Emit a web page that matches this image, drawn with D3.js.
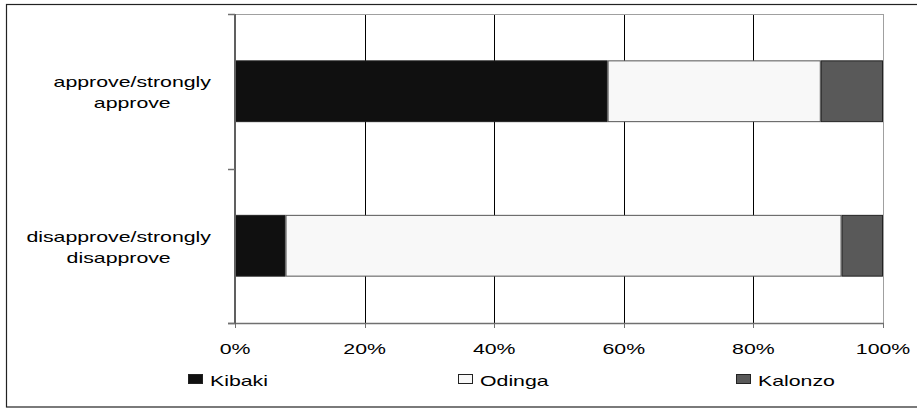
<!DOCTYPE html>
<html>
<head>
<meta charset="utf-8">
<script src="https://cdn.jsdelivr.net/npm/d3@7"></script>
<style>
  html, body { margin: 0; padding: 0; background: #fff; }
  svg { display: block; }
  text { font-family: "Liberation Sans", Arial, sans-serif; font-size: 15px; fill: #000; }
</style>
</head>
<body>
<svg id="chart" width="917" height="410"></svg>
<script>
const categories = [["approve/strongly", "approve"], ["disapprove/strongly", "disapprove"]];
const series = ["Kibaki", "Odinga", "Kalonzo"];
const kibaki = [57.5, 7.8];
const odinga = [32.9, 85.8];
const kalonzo = [9.6, 6.4];
const tickValues = [0, 20, 40, 60, 80, 100];
const tickLabels = ["0%", "20%", "40%", "60%", "80%", "100%"];
const colors = ["#101010", "#f8f8f8", "#595959"];

const SX = 1.42; // horizontal stretch of text in the reference
const svg = d3.select("#chart");

// outer frame
svg.append("rect").attr("x", 6.5).attr("y", 4.5).attr("width", 920).attr("height", 402.5)
  .attr("fill", "none").attr("stroke", "#222").attr("stroke-width", 1.2);

const x = d3.scaleLinear().domain([0, 100]).range([235, 883]);
const yBand = d3.scaleBand().domain(d3.range(categories.length)).range([14, 323]);
const barH = yBand.bandwidth() * 0.4;

// gridlines
svg.append("g").selectAll("line").data(tickValues.slice(1, -1)).join("line")
  .attr("x1", d => Math.round(x(d)) + 0.5).attr("x2", d => Math.round(x(d)) + 0.5)
  .attr("y1", 14).attr("y2", 323).attr("stroke", "#000").attr("stroke-width", 1);

// plot border top/right
svg.append("line").attr("x1", x(0)).attr("x2", x(100) + 0.5).attr("y1", 14.5).attr("y2", 14.5)
  .attr("stroke", "#a0a0a0");
svg.append("line").attr("x1", x(100) + 0.5).attr("x2", x(100) + 0.5).attr("y1", 14).attr("y2", 323)
  .attr("stroke", "#a0a0a0");

// stacked data
const rows = categories.map((c, i) => ({ i, Kibaki: kibaki[i], Odinga: odinga[i], Kalonzo: kalonzo[i] }));
const stack = d3.stack().keys(series)(rows);
const strokes = ["#222", "#555", "#222"];
svg.append("g").selectAll("g").data(stack).join("g")
  .attr("fill", (d, k) => colors[k]).attr("stroke", (d, k) => strokes[k])
  .selectAll("rect").data(d => d).join("rect")
  .attr("x", d => x(d[0]) + 0.5)
  .attr("width", d => x(d[1]) - x(d[0]) - 1)
  .attr("y", d => yBand(d.data.i) + (yBand.bandwidth() - barH) / 2 + 0.5)
  .attr("height", barH - 1)
  .attr("stroke-width", 1);

// bottom axis
svg.append("line").attr("x1", 228).attr("x2", x(100) + 1).attr("y1", 323.5).attr("y2", 323.5)
  .attr("stroke", "#707070").attr("stroke-width", 1.5);
svg.append("g").selectAll("line").data(tickValues).join("line")
  .attr("x1", d => Math.round(x(d)) + 0.5).attr("x2", d => Math.round(x(d)) + 0.5)
  .attr("y1", 323).attr("y2", 328).attr("stroke", "#707070");
svg.append("g").selectAll("text").data(tickValues).join("text")
  .attr("transform", (d, i) => `translate(${x(d)},354) scale(${SX},1)`)
  .attr("text-anchor", "middle").text((d, i) => tickLabels[i]);

// left axis
svg.append("line").attr("x1", 235).attr("x2", 235).attr("y1", 14).attr("y2", 324)
  .attr("stroke", "#606060").attr("stroke-width", 2);
const bounds = [14, 14 + yBand.bandwidth(), 323];
svg.append("g").selectAll("line").data(bounds).join("line")
  .attr("x1", 228).attr("x2", 235).attr("y1", d => Math.round(d) + 0.5).attr("y2", d => Math.round(d) + 0.5)
  .attr("stroke", "#707070").attr("stroke-width", 1.5);

// category labels
const labG = svg.append("g");
categories.forEach((lines, i) => {
  const cy = yBand(i) + yBand.bandwidth() / 2;
  const g = labG.append("g");
  const texts = lines.map((t, j) => g.append("text").attr("text-anchor", "middle").text(t));
  const w = d3.max(texts, t => t.node().getComputedTextLength()) * SX;
  const cx = 211 - w / 2;
  texts.forEach((t, j) => t.attr("transform", `translate(${cx},${cy - 4 + j * 21}) scale(${SX},1)`));
});

// legend
const legX = [188, 458, 736];
const legG = svg.append("g").selectAll("g").data(series).join("g");
legG.append("rect").attr("x", (d, i) => legX[i] + 0.5).attr("y", 374.5).attr("width", 14).attr("height", 9)
  .attr("fill", (d, i) => colors[i]).attr("stroke", "#222");
legG.append("text").attr("transform", (d, i) => `translate(${legX[i] + 22},386) scale(${SX},1)`)
  .text(d => d);
</script>
</body>
</html>
